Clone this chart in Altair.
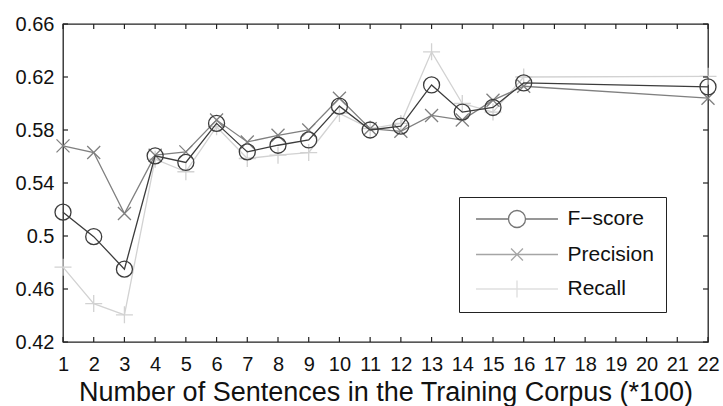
import altair as alt
import pandas as pd

# ---- data ----
x_vals = [1, 2, 3, 4, 5, 6, 7, 8, 9, 10, 11, 12, 13, 14, 15, 16, 22]
f_score = [0.518, 0.4995, 0.475, 0.5605, 0.5555, 0.585, 0.5635, 0.5685, 0.5725,
           0.598, 0.58, 0.583, 0.614, 0.5935, 0.597, 0.6155, 0.6125]
precision = [0.568, 0.563, 0.517, 0.561, 0.5635, 0.5875, 0.571, 0.576, 0.58,
             0.604, 0.581, 0.579, 0.591, 0.5875, 0.6025, 0.613, 0.604]
recall = [0.4765, 0.449, 0.4405, 0.558, 0.5485, 0.5825, 0.5585, 0.561, 0.563,
          0.5925, 0.581, 0.585, 0.639, 0.600, 0.5935, 0.620, 0.6205]
series_names = ["F\u2212score", "Precision", "Recall"]
x_ticks = list(range(1, 23))
y_ticks = [0.42, 0.46, 0.50, 0.54, 0.58, 0.62, 0.66]

colors = ["#3c3c3c", "#808080", "#d2d2d2"]

W, H = 645, 318
FONT = "Arial, Liberation Sans, sans-serif"

rows = []
for name, vals in zip(series_names, [f_score, precision, recall]):
    for xv, yv in zip(x_vals, vals):
        rows.append({"n": xv, "v": yv, "series": name})
df = pd.DataFrame(rows)

xscale = alt.Scale(domain=[1, 22], nice=False, zero=False)
yscale = alt.Scale(domain=[0.42, 0.66], nice=False, zero=False)

xaxis = alt.Axis(values=x_ticks, ticks=False, domain=False, grid=False,
                 labelFontSize=20, labelFont=FONT, labelColor="#111",
                 labelPadding=12, labelFlush=False, labelOverlap=False,
                 title="Number of Sentences in the Training Corpus (*100)",
                 titleFontSize=27, titleFont=FONT, titleFontWeight="normal",
                 titleColor="#111", titlePadding=5)
yaxis = alt.Axis(values=y_ticks, ticks=False, domain=False, grid=False,
                 format=".2~f", labelFontSize=20, labelFont=FONT,
                 labelColor="#111", labelPadding=9, labelFlush=False,
                 labelOverlap=False, title=None)

base = alt.Chart(df)

marker_shapes = ["circle", "M-1,-1L1,1M-1,1L1,-1", "M-1,0H1M0,-1V1"]
marker_sizes = [256, 169, 289]

layers = []
# draw Recall first, F-score last (on top)
for i in [2, 1, 0]:
    name = series_names[i]
    sub = base.transform_filter(alt.datum.series == name)
    line = sub.mark_line(color=colors[i], strokeWidth=1.3).encode(
        x=alt.X("n:Q", scale=xscale, axis=xaxis),
        y=alt.Y("v:Q", scale=yscale, axis=yaxis),
    )
    pts = sub.mark_point(shape=marker_shapes[i], size=marker_sizes[i],
                         filled=False, color=colors[i], strokeWidth=1.3,
                         opacity=1).encode(
        x=alt.X("n:Q", scale=xscale, axis=xaxis),
        y=alt.Y("v:Q", scale=yscale, axis=yaxis),
    )
    layers += [line, pts]

# inward ticks on all four sides
xt = pd.DataFrame({"t": x_ticks})
yt = pd.DataFrame({"t": y_ticks})
tick_style = dict(color="#222", strokeWidth=1.2)
bottom_ticks = alt.Chart(xt).mark_rule(**tick_style).encode(
    x=alt.X("t:Q", scale=xscale, axis=xaxis), y=alt.value(H), y2=alt.value(H - 5))
top_ticks = alt.Chart(xt).mark_rule(**tick_style).encode(
    x=alt.X("t:Q", scale=xscale, axis=xaxis), y=alt.value(0), y2=alt.value(5))
left_ticks = alt.Chart(yt).mark_rule(**tick_style).encode(
    y=alt.Y("t:Q", scale=yscale, axis=yaxis), x=alt.value(0), x2=alt.value(5))
right_ticks = alt.Chart(yt).mark_rule(**tick_style).encode(
    y=alt.Y("t:Q", scale=yscale, axis=yaxis), x=alt.value(W), x2=alt.value(W - 5))

# legend layer (no visible data; legend built from explicit domain)
leg_paths = [
    "M-4.82,0H-1M1,0H4.82M1,0A1,1 0 1,1 -1,0A1,1 0 1,1 1,0",
    "M-4.82,0H4.82M-0.7,-0.7L0.7,0.7M-0.7,0.7L0.7,-0.7",
    "M-4.82,0H4.82M0,-1V1",
]
legend = alt.Legend(orient="none", legendX=396, legendY=173, title=None,
                    padding=11.5, symbolOffset=36, labelOffset=40,
                    rowPadding=12.5, strokeColor="#222", fillColor="white",
                    labelFontSize=21, labelFont=FONT, labelColor="#111",
                    symbolSize=289, symbolStrokeWidth=1.3, cornerRadius=0)
leg_layer = base.transform_filter("false").mark_point(filled=False, size=289).encode(
    shape=alt.Shape("series:N", scale=alt.Scale(domain=series_names, range=leg_paths),
                    legend=legend),
    color=alt.Color("series:N", scale=alt.Scale(domain=series_names, range=colors),
                    legend=legend),
)

chart = alt.layer(*layers, bottom_ticks, top_ticks, left_ticks, right_ticks,
                  leg_layer).resolve_scale(shape="independent", color="independent").properties(
    width=W, height=H,
    autosize=alt.AutoSizeParams(type="none"),
    padding={"left": 63, "top": 24, "right": 15, "bottom": 64},
    background="white",
).configure_view(stroke="#222", strokeWidth=1.3)

chart.save("out.html", embed_options={"renderer": "svg", "actions": False})
